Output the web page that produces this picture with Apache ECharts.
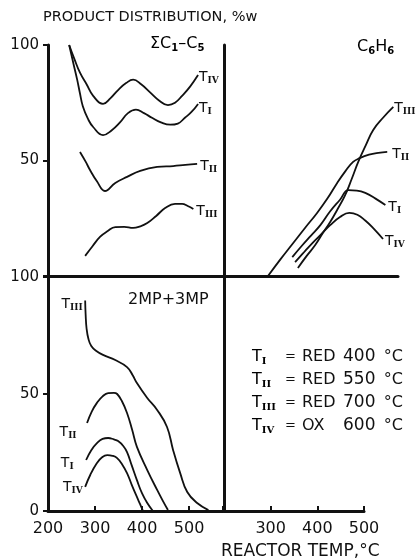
<!DOCTYPE html>
<html>
<head>
<meta charset="utf-8">
<script src="https://cdn.jsdelivr.net/npm/echarts@6/dist/echarts.min.js"></script>
<style>
  html, body { margin: 0; padding: 0; background: #fff; }
  #main { width: 418px; height: 560px; }
</style>
</head>
<body>
<div id="main"></div>
<script>
// 反応器温度 (°C) と生成物分布 (%w) の読み取り値 [temp, value]
// 上段左: ΣC1-C5
var c15_TI   = [[245,100],[254,92],[262,85],[268,79],[274,73.5],[285,68],[296,64.5],[317,61],[335,63],[353,66.5],[370,70.5],[387,72],[404,70.5],[421,68.5],[440,66.5],[460,65.5],[476,66],[491,68.5],[505,71],[519,74.5]];
var c15_TII  = [[268,53.7],[280,49.5],[289,46],[304,41],[321,36.8],[343,40.3],[368,42.9],[396,45.5],[432,47.2],[466,47.6],[492,48.1],[517,48.5]];
var c15_TIII = [[279,8.7],[295,13],[311,17],[327,19.5],[343,21.2],[362,21.3],[381,20.8],[396,21.5],[411,22.9],[430,26],[449,29.4],[470,31.2],[485,31.2],[497,30.3],[509,29]];
var c15_TIV  = [[245,100],[256,94],[268,88],[282,83],[296,78],[317,74.5],[333,77],[349,80.5],[366,83.5],[381,85],[398,83],[417,79.5],[436,76],[455,74],[470,75],[485,78],[502,82],[519,87]];
// 上段右: C6H6
var bz_TI    = [[346,8.2],[366,13],[386,17.5],[406,22],[427,28],[448,33],[466,37.2],[484,37],[502,36],[524,33.5],[545,30.7]];
var bz_TII   = [[294,0],[321,7.3],[348,14.3],[374,21],[399,27.3],[421,33.5],[442,40.3],[460,45.5],[476,49.4],[490,51],[510,52.5],[530,53.3],[549,53.7]];
var bz_TIII  = [[358,3.5],[376,8.5],[395,13.4],[411,18.5],[427,23.4],[443,29],[459,35],[473,42],[487,49.4],[503,56.5],[519,63.2],[540,68.5],[562,73.2]];
var bz_TIV   = [[352,6],[372,10.5],[390,14.5],[406,17.7],[427,22],[448,25.5],[468,27.3],[485,26.5],[502,24],[520,20.5],[540,16]];
// 下段左: 2MP+3MP
var mp_TI    = [[281,21.8],[292,26],[304,29],[316,30.8],[328,31.2],[340,30.6],[349,29.9],[360,27.8],[368,25.2],[378,19.5],[389,13.2],[400,7.5],[411,3.4],[423,0]];
var mp_TII   = [[283,37.6],[293,42.5],[304,46.2],[316,49],[328,50.4],[340,50.5],[347,50],[357,47],[368,41.9],[379,34.6],[389,27.4],[411,17.5],[432,9],[445,4],[455,0.4]];
var mp_TIII  = [[279,90],[280,84],[282,78],[286,73.5],[292,70.5],[302,68.5],[317,66.7],[343,64.5],[368,61.5],[380,58],[389,54.7],[411,48.3],[432,43.2],[453,35.9],[466,26],[481,16.2],[496,8.1],[517,3.4],[541,0.4]];
var mp_TIV   = [[279,10.3],[290,15.5],[304,20.5],[315,23],[326,23.9],[337,23.6],[347,22.6],[358,19.8],[368,16.2],[378,11.2],[389,6],[396,2.8],[402,0]];

var yTicks = [0, 50, 100];
var xTicks = [200, 300, 400, 500];
var legendSub  = ['I', 'II', 'III', 'IV'];
var legendMode = ['RED', 'RED', 'RED', 'OX'];
var legendTemp = ['400', '550', '700', '600'];

var INK = '#111';
var FONT = 'DejaVu Sans';
var richT = {
    t: { fontSize: 14, fontFamily: FONT, color: INK, lineHeight: 16 },
    s: { fontSize: 9, fontFamily: 'DejaVu Serif', fontWeight: 'bold', color: INK, lineHeight: 9, padding: [7, 0, 0, 0] }
};
var richL = {
    t: { fontSize: 16, fontFamily: FONT, color: INK, lineHeight: 18 },
    s: { fontSize: 10, fontFamily: 'DejaVu Serif', fontWeight: 'bold', color: INK, lineHeight: 10, padding: [8, 0, 0, 0] }
};
var richC = {
    m: { fontSize: 16, fontFamily: FONT, color: INK, lineHeight: 18 },
    d: { fontSize: 10, fontFamily: FONT, fontWeight: 'bold', color: INK, lineHeight: 10, padding: [8, 0, 0, 0] }
};

function tLabel(sub) {
    return '{t|T}{s|' + sub + '}';
}

// 右端にラベルを付ける曲線
function curveEnd(data, gi, sub, offset) {
    return {
        type: 'line', xAxisIndex: gi, yAxisIndex: gi, data: data,
        showSymbol: false, smooth: 0.45, silent: true,
        lineStyle: { color: INK, width: 1.8 },
        endLabel: { show: true, formatter: tLabel(sub), rich: richT, distance: 1, offset: offset || [0, 0] }
    };
}

// 左端(始点)にラベルを付ける曲線
function curveStart(data, gi, sub, offset) {
    return {
        type: 'line', xAxisIndex: gi, yAxisIndex: gi, data: data,
        showSymbol: false, smooth: 0.45, silent: true,
        lineStyle: { color: INK, width: 1.8 },
        markPoint: {
            symbol: 'circle', symbolSize: 1, silent: true,
            itemStyle: { color: 'rgba(0,0,0,0)' },
            label: { show: true, position: 'left', distance: 2, formatter: tLabel(sub), rich: richT, offset: offset || [0, 0] },
            data: [{ coord: data[0] }]
        }
    };
}

function xAx(gi, max, showLabels, showTicks, hide200) {
    return {
        type: 'value', gridIndex: gi, min: 200, max: max, interval: 100,
        axisLine: { show: true, lineStyle: { color: INK, width: 3 } },
        axisTick: { show: showTicks, inside: true, length: 5, lineStyle: { color: INK, width: 2 } },
        axisLabel: {
            show: showLabels, margin: 10, color: INK, fontFamily: FONT, fontSize: 16,
            formatter: function (v) {
                if (xTicks.indexOf(v) < 0) return '';
                if (hide200 && v === 200) return '';
                return String(v);
            }
        },
        splitLine: { show: false }
    };
}

function yAx(gi, showLabels, hideZero) {
    return {
        type: 'value', gridIndex: gi, min: 0, max: 100, interval: 50,
        axisLine: { show: true, lineStyle: { color: INK, width: 3 } },
        axisTick: { show: showLabels, length: 5, lineStyle: { color: INK, width: 2 } },
        axisLabel: {
            show: showLabels, margin: 9, color: INK, fontFamily: FONT, fontSize: 15,
            formatter: function (v) {
                if (yTicks.indexOf(v) < 0) return '';
                if (hideZero && v === 0) return '';
                return String(v);
            }
        },
        splitLine: { show: false }
    };
}

var graphics = [
    { type: 'text', left: 43, top: 10, style: { text: 'PRODUCT DISTRIBUTION, %w', font: '14.5px "DejaVu Sans"', fill: INK } },
    { type: 'text', left: 150, top: 35, style: { text: '{m|\u03A3C}{d|1}{m|\u2013C}{d|5}', rich: richC } },
    { type: 'text', left: 357, top: 38, style: { text: '{m|C}{d|6}{m|H}{d|6}', rich: richC } },
    { type: 'text', left: 128, top: 292, style: { text: '2MP+3MP', font: '16px "DejaVu Sans"', fill: INK } },
    { type: 'text', left: 221, top: 543, style: { text: 'REACTOR TEMP,\u00B0C', font: '17px "DejaVu Sans"', fill: INK } }
];
legendSub.forEach(function (sub, i) {
    var y = 348 + i * 23;
    graphics.push({ type: 'text', left: 252, top: y, style: { text: tLabel(sub), rich: richL } });
    graphics.push({ type: 'text', left: 285, top: y + 2, style: { text: '=', font: '13px "DejaVu Sans"', fill: INK } });
    graphics.push({ type: 'text', left: 302, top: y + 1, style: { text: legendMode[i], font: '16px "DejaVu Sans"', fill: INK } });
    graphics.push({ type: 'text', left: 343, top: y, style: { text: legendTemp[i], font: '17px "DejaVu Sans"', fill: INK } });
    graphics.push({ type: 'text', right: 15, top: y + 1, style: { text: '\u00B0C', font: '16px "DejaVu Sans"', fill: INK } });
});

var chart = echarts.init(document.getElementById('main'));
chart.setOption({
    animation: false,
    backgroundColor: '#fff',
    grid: [
        { left: 48, top: 45, width: 175, height: 231 },
        { left: 224, top: 45, width: 174, height: 231 },
        { left: 48, top: 277, width: 175, height: 234 },
        { left: 224, top: 277, width: 140, height: 234 }
    ],
    xAxis: [
        xAx(0, 572, false, false, false),
        xAx(1, 572, false, false, false),
        xAx(2, 572, true, true, false),
        xAx(3, 500, true, true, true)
    ],
    yAxis: [
        yAx(0, true, true),
        yAx(1, false, false),
        yAx(2, true, false),
        yAx(3, false, false)
    ],
    graphic: graphics,
    series: [
        curveEnd(c15_TIV, 0, 'IV', [0, 2]),
        curveEnd(c15_TI, 0, 'I', [0, 4]),
        curveEnd(c15_TII, 0, 'II', [2, 2]),
        curveEnd(c15_TIII, 0, 'III', [2, 2]),
        curveEnd(bz_TIII, 1, 'III', [0, 1]),
        curveEnd(bz_TII, 1, 'II', [4, 2]),
        curveEnd(bz_TI, 1, 'I', [2, 2]),
        curveEnd(bz_TIV, 1, 'IV', [1, 2]),
        curveStart(mp_TIII, 2, 'III', [0, 4]),
        curveStart(mp_TII, 2, 'II', [-8, 9]),
        curveStart(mp_TI, 2, 'I', [-10, 3]),
        curveStart(mp_TIV, 2, 'IV', [0, 0])
    ]
});
</script>
</body>
</html>
